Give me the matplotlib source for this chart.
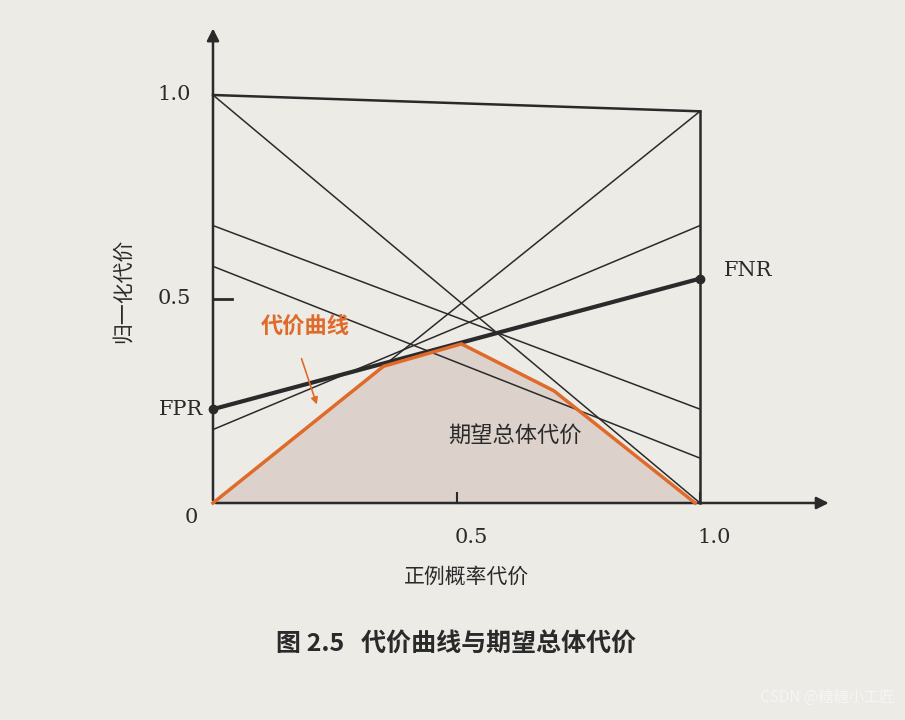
import matplotlib
matplotlib.use("Agg")
import matplotlib.pyplot as plt

# classifier lines: (FPR at x=0, FNR at x=1)
left_vals = [1.0, 0.68, 0.58, 0.0, 0.18]
right_vals = [0.0, 0.23, 0.11, 0.96, 0.68]
thick_line = [0.23, 0.55]
top_line = [1.0, 0.96]
# cost curve (lower envelope)
curve_x = [0.0, 0.35, 0.51, 0.70, 0.99]
curve_y = [0.0, 0.335, 0.39, 0.275, 0.0]
xticks = [0.5, 1.0]
xtick_labels = ["0.5", "1.0"]

fig = plt.figure(figsize=(9.05, 7.2), dpi=100)
fig.patch.set_facecolor("#ecebe6")
ax = fig.add_axes([0, 0, 1, 1])
ax.set_facecolor("#ecebe6")
sx, sy = 487.0, 408.0
ax.set_xlim(-213 / sx, (905 - 213) / sx)
ax.set_ylim((503 - 720) / sy, 503 / sy)
ax.axis("off")

CJK = ["Noto Sans CJK SC", "DejaVu Sans"]
SERIF = ["DejaVu Serif"]
ink = "#2a2a2a"

ax.fill_between(curve_x, curve_y, 0, color="#dcd2cb", zorder=1)
for l, r in zip(left_vals, right_vals):
    ax.plot([0, 1], [l, r], color=ink, lw=1.1, zorder=2)
ax.plot([0, 1], top_line, color=ink, lw=1.8, zorder=2)
ax.plot([0, 1], thick_line, color=ink, lw=3, zorder=3)
ax.plot([0, 1], thick_line, "o", color=ink, ms=6, zorder=3)
ax.plot([1, 1], [0, top_line[1]], color=ink, lw=1.8, zorder=2)
ax.plot(curve_x, curve_y, color="#e06a2a", lw=2.5, zorder=4)

# axes with arrows
ax.annotate("", xy=(1.27, 0), xytext=(0, 0),
            arrowprops=dict(arrowstyle="-|>", color=ink, lw=1.8, mutation_scale=18))
ax.annotate("", xy=(0, 1.17), xytext=(0, 0),
            arrowprops=dict(arrowstyle="-|>", color=ink, lw=1.8, mutation_scale=18))
ax.plot([0, 0.04], [0.5, 0.5], color=ink, lw=2)
for t in xticks:
    ax.plot([t, t], [0, 0.025], color=ink, lw=1.5)

ax.text(-0.045, 1.0, "1.0", ha="right", va="center", fontsize=15, family=SERIF, color=ink)
ax.text(-0.045, 0.5, "0.5", ha="right", va="center", fontsize=15, family=SERIF, color=ink)
ax.text(-0.03, -0.035, "0", ha="right", va="center", fontsize=15, family=SERIF, color=ink)
ax.text(-0.02, thick_line[0], "FPR", ha="right", va="center", fontsize=15, family=SERIF, color=ink)
ax.text(1.05, thick_line[1] + 0.02, "FNR", ha="left", va="center", fontsize=15, family=SERIF, color=ink)
for t, s in zip(xticks, xtick_labels):
    ax.text(t + 0.03, -0.085, s, ha="center", va="center", fontsize=15, family=SERIF, color=ink)
ax.text(0.52, -0.18, "正例概率代价", ha="center", va="center", fontsize=15, family=CJK, color=ink)
ax.text(-0.185, 0.52, "归一化代价", ha="center", va="center", fontsize=15, family=CJK,
        rotation=90, color=ink)
ax.text(0.19, 0.43, "代价曲线", ha="center", va="center", fontsize=16, family=CJK,
        color="#e06a2a", fontweight="bold")
ax.annotate("", xy=(0.215, 0.235), xytext=(0.18, 0.36),
            arrowprops=dict(arrowstyle="-|>", color="#e06a2a", lw=1.2))
ax.text(0.62, 0.165, "期望总体代价", ha="center", va="center", fontsize=16, family=CJK, color=ink)
ax.text(0.5, -0.345, "图 2.5   代价曲线与期望总体代价", ha="center", va="center",
        fontsize=18, family=CJK, color=ink, fontweight="bold")
ax.text(1.4, -0.475, "CSDN @糖糖小工匠", ha="right", va="center", fontsize=11,
        family=CJK, color="#f5f5f5")
fig.savefig("out.png", dpi=100, facecolor=fig.get_facecolor())
